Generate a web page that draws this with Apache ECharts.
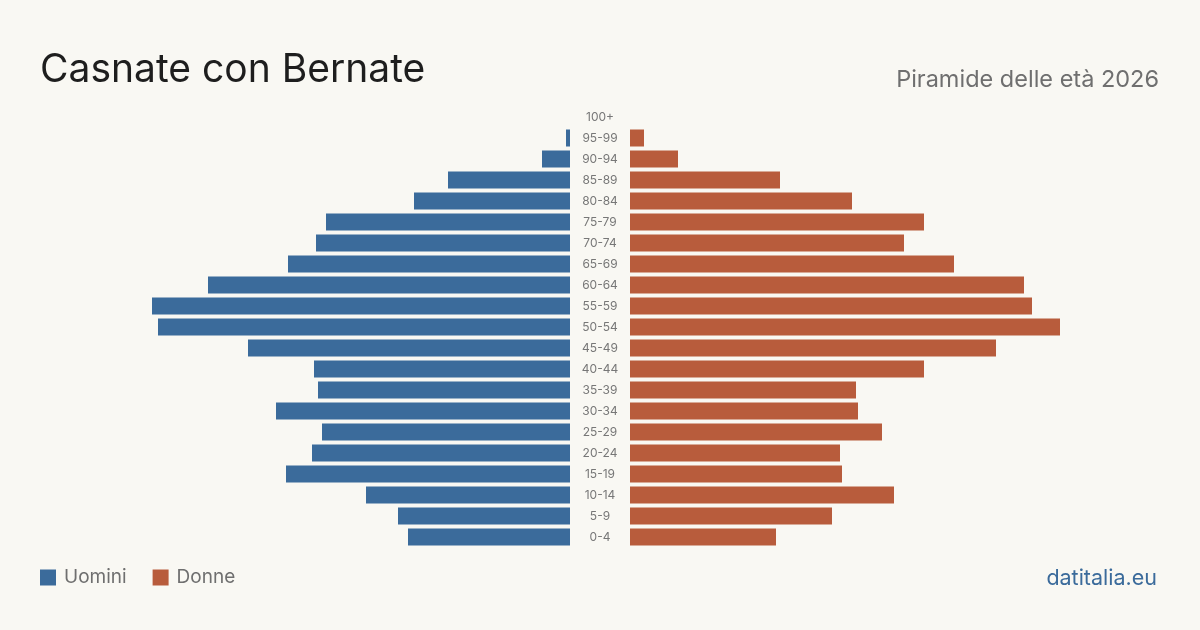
<!DOCTYPE html>
<html lang="it">
<head>
    <meta charset="utf-8">
    <title>Casnate con Bernate - Piramide delle età 2026</title>
    <script src="https://cdn.jsdelivr.net/npm/echarts@6/dist/echarts.min.js"></script>
    <style>
        html, body { margin: 0; padding: 0; background: #f9f8f3; }
        #main { width: 1200px; height: 630px; }
    </style>
</head>
<body>
<div id="main"></div>
<script type="text/javascript">
    // classi di età, dal basso verso l'alto
    var classi = ['0-4', '5-9', '10-14', '15-19', '20-24', '25-29', '30-34', '35-39', '40-44', '45-49',
        '50-54', '55-59', '60-64', '65-69', '70-74', '75-79', '80-84', '85-89', '90-94', '95-99', '100+'];
    var uomini = [81, 86, 102, 142, 129, 124, 147, 126, 128, 161,
        206, 209, 181, 141, 127, 122, 78, 61, 14, 2, 0];
    var donne = [73, 101, 132, 106, 105, 126, 114, 113, 147, 183,
        215, 201, 197, 162, 137, 147, 111, 75, 24, 7, 0];
    var maxVal = 215;

    var blu = '#3b6b9b';
    var rosso = '#b85c3c';
    var font = 'Inter, "Noto Sans", sans-serif';

    var myChart = echarts.init(document.getElementById('main'));
    var option = {
        backgroundColor: '#f9f8f3',
        textStyle: { fontFamily: font },
        title: [{
            text: 'Casnate con Bernate',
            left: 35, top: 46,
            textStyle: { fontSize: 39, fontWeight: 'normal', color: '#1e1e1e', fontFamily: font }
        }, {
            text: 'Piramide delle età 2026',
            right: 36, top: 63,
            textStyle: { fontSize: 23.5, fontWeight: 'normal', color: '#6f6f6f', fontFamily: font }
        }, {
            text: 'datitalia.eu',
            right: 38, top: 563,
            textStyle: { fontSize: 21.5, fontWeight: 'normal', color: '#3b6b9b', fontFamily: font }
        }],
        legend: {
            left: 35, top: 563,
            itemWidth: 16, itemHeight: 16, itemGap: 26,
            icon: 'rect',
            textStyle: { fontSize: 19, color: '#6f6f6f', fontFamily: font, padding: [0, 0, 0, 3] },
            data: ['Uomini', 'Donne']
        },
        grid: [
            { left: 140, width: 430, top: 106.5, height: 441 },
            { left: 630, width: 430, top: 106.5, height: 441 }
        ],
        xAxis: [
            { gridIndex: 0, type: 'value', min: 0, max: maxVal, inverse: true, show: false },
            { gridIndex: 1, type: 'value', min: 0, max: maxVal, show: false }
        ],
        yAxis: [{
            gridIndex: 0, type: 'category', data: classi, position: 'right',
            axisLine: { show: false }, axisTick: { show: false },
            axisLabel: { margin: 30, align: 'center', fontSize: 12, color: '#777', fontFamily: font }
        }, {
            gridIndex: 1, type: 'category', data: classi, show: false
        }],
        series: [{
            name: 'Uomini', type: 'bar', xAxisIndex: 0, yAxisIndex: 0,
            data: uomini, barCategoryGap: '19%',
            itemStyle: { color: blu }
        }, {
            name: 'Donne', type: 'bar', xAxisIndex: 1, yAxisIndex: 1,
            data: donne, barCategoryGap: '19%',
            itemStyle: { color: rosso }
        }]
    };

    myChart.setOption(option);
</script>
</body>
</html>
